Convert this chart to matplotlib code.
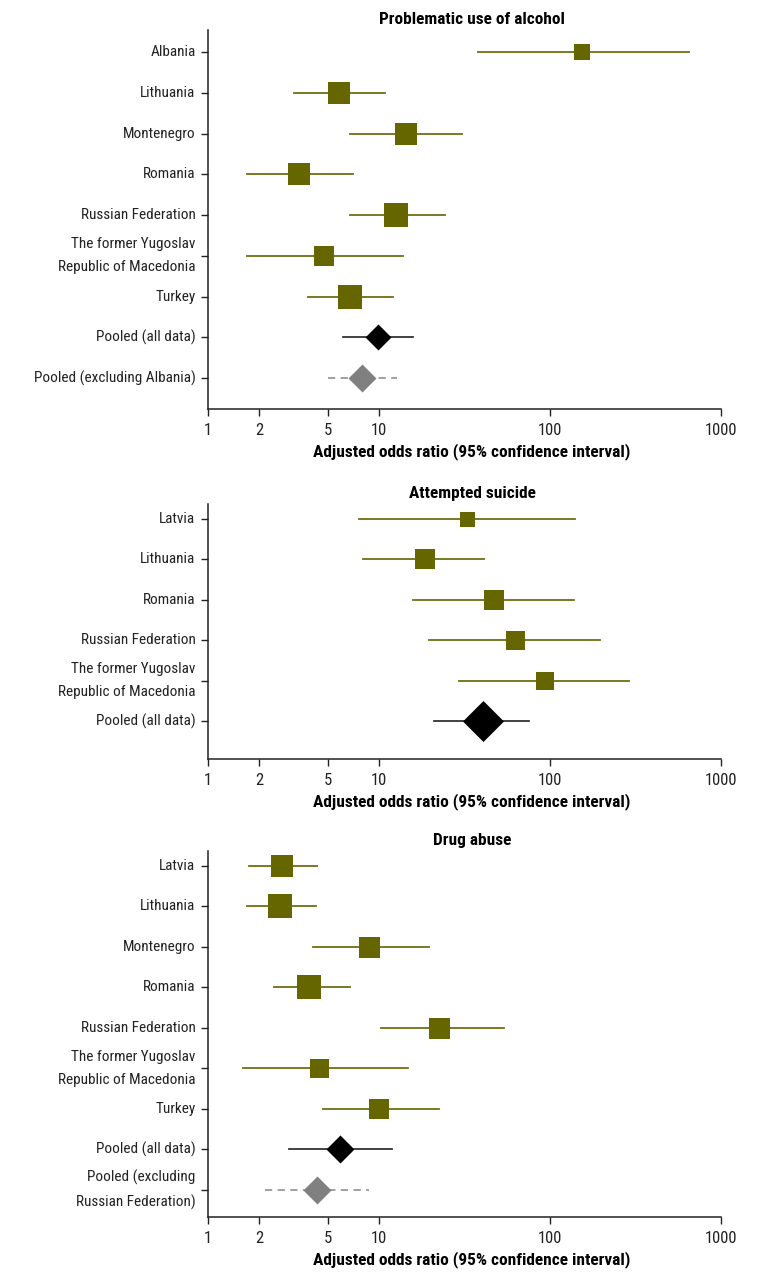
import matplotlib
matplotlib.use("Agg")
import matplotlib.pyplot as plt
from matplotlib import font_manager

# ---------------- data ----------------
alc_labels = ["Albania", "Lithuania", "Montenegro", "Romania", "Russian Federation",
              "The former Yugoslav\nRepublic of Macedonia", "Turkey",
              "Pooled (all data)", "Pooled (excluding Albania)"]
alc_or = [154, 5.8, 14.4, 3.4, 12.6, 4.8, 6.8, 9.9, 8.0]
alc_lo = [37.9, 3.2, 6.8, 1.69, 6.8, 1.69, 3.84, 6.2, 5.0]
alc_hi = [646, 10.8, 30.6, 7.05, 24.3, 13.8, 12.1, 15.8, 12.7]

sui_labels = ["Latvia", "Lithuania", "Romania", "Russian Federation",
              "The former Yugoslav\nRepublic of Macedonia", "Pooled (all data)"]
sui_or = [32.7, 18.6, 47.1, 62.8, 93.5, 40.3]
sui_lo = [7.6, 8.1, 15.8, 19.6, 29.4, 21.0]
sui_hi = [140, 41.1, 139, 195, 288, 75.4]

drg_labels = ["Latvia", "Lithuania", "Montenegro", "Romania", "Russian Federation",
              "The former Yugoslav\nRepublic of Macedonia", "Turkey",
              "Pooled (all data)", "Pooled (excluding\nRussian Federation)"]
drg_or = [2.71, 2.64, 8.7, 3.9, 22.4, 4.46, 10.0, 5.9, 4.34]
drg_lo = [1.74, 1.69, 4.1, 2.43, 10.3, 1.60, 4.7, 2.98, 2.15]
drg_hi = [4.34, 4.28, 19.6, 6.77, 53.8, 14.8, 22.4, 11.9, 8.74]

# row kinds: 's' study, 'p' pooled, 'e' pooled excluding one country
alc_kind = ['s'] * 7 + ['p', 'e']
sui_kind = ['s'] * 5 + ['p']
drg_kind = ['s'] * 7 + ['p', 'e']

# marker sizes (pixels) - study weights
alc_size = [16, 23, 22, 22, 24, 20, 24, 26, 28]
sui_size = [15, 20, 20, 19, 18, 41]
drg_size = [23, 24, 21, 24, 21, 19, 20, 28, 28]

xticks = [1, 2, 5, 10, 100, 1000]
xticklabels = ["1", "2", "5", "10", "100", "1000"]

# ---------------- font choice: prefer a condensed face ----------------
def _stretch_val(s):
    if isinstance(s, (int, float)):
        return s
    return font_manager.stretch_dict.get(str(s).lower(), 500)

ttf = font_manager.fontManager.ttflist
names = {f.name for f in ttf}
FAMILY, STRETCH, SCALE = None, "normal", 1.0
for nm in ["Liberation Sans Narrow", "Roboto Condensed", "Open Sans Condensed"]:
    if nm in names:
        FAMILY = nm
        break
if FAMILY is None:
    for nm in ["DejaVu Sans", "Noto Sans", "Open Sans", "Roboto", "Liberation Sans", "Lato", "Inter"]:
        cond = [f for f in ttf if f.name == nm and _stretch_val(f.stretch) <= 400]
        if cond:
            FAMILY, STRETCH = nm, "condensed"
            break
if FAMILY is None:
    FAMILY, SCALE = "Lato", 0.95

plt.rcParams['font.family'] = [FAMILY, "DejaVu Sans"]
plt.rcParams['font.stretch'] = STRETCH

W, H = 771, 1281
fig = plt.figure(figsize=(W / 100, H / 100), dpi=100)

PX = 0.72  # points per pixel at dpi 100
STUDY_FILL = "#666600"
STUDY_LINE = "#6f6f10"
DIAMOND = [(-1, 0), (0, 1), (1, 0), (0, -1), (-1, 0)]
LEFT_PX, RIGHT_PX = 208, 721
TEXT_CENTER = (472 - LEFT_PX) / (RIGHT_PX - LEFT_PX)


def panel(rect, title, labels, orv, lo, hi, kind, size, ylim):
    ax = fig.add_axes(rect)
    ax.set_xscale("log")
    ax.set_xlim(1, 1000)
    ax.set_ylim(*ylim)
    ys = list(range(len(labels)))
    for y, o, l, h, k, s in zip(ys, orv, lo, hi, kind, size):
        if k == 's':
            ax.plot([l, h], [y, y], color=STUDY_LINE, lw=1.3, zorder=2)
            ax.plot([o], [y], marker='s', ms=s * PX, color=STUDY_FILL,
                    mec=STUDY_FILL, mew=0, zorder=3)
        elif k == 'p':
            ax.plot([l, h], [y, y], color="#333333", lw=1.3, zorder=2)
            ax.plot([o], [y], marker=DIAMOND, ms=s * PX, color="black", mew=0, zorder=3)
        else:
            ax.plot([l, h], [y, y], color="#999999", lw=1.3, ls=(0, (4, 3)), zorder=2)
            ax.plot([o], [y], marker=DIAMOND, ms=s * PX, color="#808080", mew=0, zorder=3)
    ax.set_yticks(ys)
    ax.set_yticklabels(labels, fontsize=11 * SCALE, linespacing=1.85, color="#222222",
                       fontstretch=STRETCH)
    for t in ax.get_yticklabels():
        t.set_verticalalignment("center")
    ax.set_xticks(xticks)
    ax.set_xticklabels(xticklabels, fontsize=12 * SCALE, color="#222222",
                       fontstretch=STRETCH)
    ax.xaxis.set_minor_locator(matplotlib.ticker.NullLocator())
    ax.tick_params(axis='y', length=5, width=1, pad=4, color="#222222")
    ax.tick_params(axis='x', length=5, width=1, pad=5, color="#222222")
    for sp in ["top", "right"]:
        ax.spines[sp].set_visible(False)
    for sp in ["left", "bottom"]:
        ax.spines[sp].set_linewidth(1.1)
        ax.spines[sp].set_color("#222222")
    ax.set_title(title, fontsize=12.4 * SCALE, fontweight="bold", pad=4,
                 fontstretch=STRETCH, x=TEXT_CENTER)
    ax.set_xlabel("Adjusted odds ratio (95% confidence interval)", fontsize=12.5 * SCALE,
                  fontweight="bold", labelpad=4, fontstretch=STRETCH)
    ax.xaxis.label.set_x(TEXT_CENTER)
    return ax


left = LEFT_PX / W
width = (RIGHT_PX - LEFT_PX) / W


def rect(top_px, bot_px):
    return [left, 1 - bot_px / H, width, (bot_px - top_px) / H]


panel(rect(30, 409), "Problematic use of alcohol", alc_labels, alc_or, alc_lo, alc_hi,
      alc_kind, alc_size, (8.76, -0.54))
panel(rect(504, 759), "Attempted suicide", sui_labels, sui_or, sui_lo, sui_hi,
      sui_kind, sui_size, (5.94, -0.37))
panel(rect(851, 1217), "Drug abuse", drg_labels, drg_or, drg_lo, drg_hi,
      drg_kind, drg_size, (8.67, -0.37))

fig.savefig("out.png", dpi=100)
